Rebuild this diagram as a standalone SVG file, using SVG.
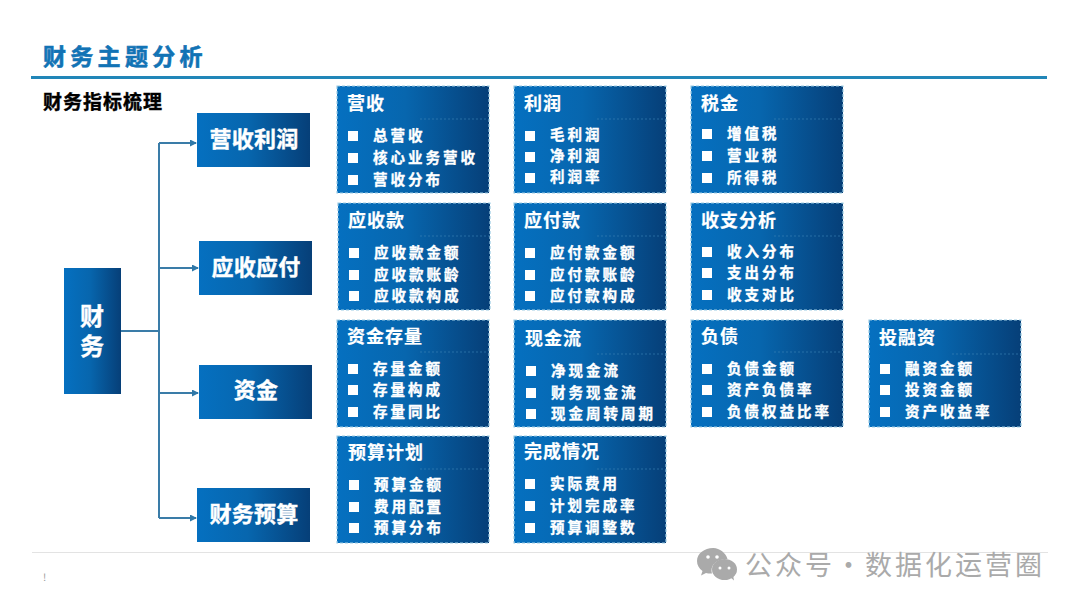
<svg xmlns="http://www.w3.org/2000/svg" width="1080" height="608" viewBox="0 0 1080 608">
<style>
text{font-family:"Noto Sans CJK SC","Noto Sans",sans-serif;font-weight:700}
.n{fill:url(#g)}
.c{fill:url(#g);stroke:#9ccbe3;stroke-width:1.2;stroke-dasharray:3 2}
.d{stroke:#3f86b8;stroke-width:1;stroke-dasharray:2 2;opacity:.6}
.nt{fill:#fff;stroke:#fff;stroke-width:.4;font-size:22px;letter-spacing:.3px;text-anchor:middle}
.h{fill:#fff;stroke:#fff;stroke-width:.2;font-size:18px;letter-spacing:1px}
.i{fill:#fff;stroke:#fff;stroke-width:.35;font-size:14.5px;letter-spacing:3px}
.b{fill:#fff}
.w{stroke:#3a7ca8;stroke-width:2;fill:none}
</style>
<defs>
<linearGradient id="g" x1="0" y1="0" x2="1" y2="0"><stop offset="0" stop-color="#0570c0"/><stop offset=".45" stop-color="#0766ae"/><stop offset="1" stop-color="#063f78"/></linearGradient>
<marker id="a" markerWidth="8" markerHeight="8" refX="6" refY="3.5" orient="auto" markerUnits="userSpaceOnUse"><path d="M0 0L7 3.5L0 7z" fill="#2f78a8"/></marker>
</defs>
<rect width="1080" height="608" fill="#fff"/>
<text x="43" y="65" font-size="23" letter-spacing="4.3" fill="#1273b5" stroke="#1273b5" stroke-width=".6">财务主题分析</text>
<rect x="31" y="76" width="1016" height="3" fill="#2186b8"/>
<text x="43" y="109" font-size="19" letter-spacing="1" fill="#000" stroke="#000" stroke-width=".4">财务指标梳理</text>
<g id="connectors">
<path class="w" d="M121 331H159"/>
<path class="w" d="M159 518V143"/>
<path class="w" d="M159 143H196" marker-end="url(#a)"/>
<path class="w" d="M159 268H198" marker-end="url(#a)"/>
<path class="w" d="M159 393H198" marker-end="url(#a)"/>
<path class="w" d="M159 518H196" marker-end="url(#a)"/>
</g>
<g id="n-root"><rect class="n" x="64" y="268" width="57" height="126"/><text x="92" y="304" fill="#fff" stroke="#fff" stroke-width=".4" font-size="24" letter-spacing="6" style="writing-mode:vertical-rl">财务</text></g>
<g id="n-1"><rect class="n" x="197" y="113" width="113" height="54"/><text class="nt" x="254" y="147">营收利润</text></g>
<g id="n-2"><rect class="n" x="199" y="241" width="113" height="54"/><text class="nt" x="256" y="275">应收应付</text></g>
<g id="n-3"><rect class="n" x="199" y="365" width="113" height="54"/><text class="nt" x="256" y="398">资金</text></g>
<g id="n-4"><rect class="n" x="197" y="488" width="113" height="54"/><text class="nt" x="254" y="522">财务预算</text></g>

<g id="c-11"><rect class="c" x="337" y="86" width="152" height="107"/><path class="d" d="M420 119H489"/><text class="h" x="347" y="110">营收</text>
<rect class="b" x="348" y="131" width="10" height="10"/><rect class="b" x="348" y="153" width="10" height="10"/><rect class="b" x="348" y="175" width="10" height="10"/>
<text class="i" x="373" y="141">总营收</text><text class="i" x="373" y="163">核心业务营收</text><text class="i" x="373" y="185">营收分布</text></g>
<g id="c-12"><rect class="c" x="514" y="86" width="152" height="107"/><path class="d" d="M597 119H666"/><text class="h" x="524" y="110">利润</text>
<rect class="b" x="525" y="131" width="10" height="10"/><rect class="b" x="525" y="152" width="10" height="10"/><rect class="b" x="525" y="173" width="10" height="10"/>
<text class="i" x="550" y="140">毛利润</text><text class="i" x="550" y="161">净利润</text><text class="i" x="550" y="182">利润率</text></g>
<g id="c-13"><rect class="c" x="691" y="86" width="152" height="107"/><path class="d" d="M774 119H843"/><text class="h" x="701" y="110">税金</text>
<rect class="b" x="702" y="129" width="10" height="10"/><rect class="b" x="702" y="151" width="10" height="10"/><rect class="b" x="702" y="173" width="10" height="10"/>
<text class="i" x="727" y="139">增值税</text><text class="i" x="727" y="161">营业税</text><text class="i" x="727" y="183">所得税</text></g>

<g id="c-21"><rect class="c" x="338" y="203" width="152" height="107"/><path class="d" d="M420 236H490"/><text class="h" x="348" y="227">应收款</text>
<rect class="b" x="349" y="248" width="10" height="10"/><rect class="b" x="349" y="270" width="10" height="10"/><rect class="b" x="349" y="291" width="10" height="10"/>
<text class="i" x="374" y="258">应收款金额</text><text class="i" x="374" y="280">应收款账龄</text><text class="i" x="374" y="301">应收款构成</text></g>
<g id="c-22"><rect class="c" x="514" y="203" width="152" height="107"/><path class="d" d="M597 236H666"/><text class="h" x="524" y="227">应付款</text>
<rect class="b" x="525" y="248" width="10" height="10"/><rect class="b" x="525" y="270" width="10" height="10"/><rect class="b" x="525" y="291" width="10" height="10"/>
<text class="i" x="550" y="258">应付款金额</text><text class="i" x="550" y="280">应付款账龄</text><text class="i" x="550" y="301">应付款构成</text></g>
<g id="c-23"><rect class="c" x="691" y="203" width="152" height="107"/><path class="d" d="M774 236H843"/><text class="h" x="701" y="227">收支分析</text>
<rect class="b" x="702" y="247" width="10" height="10"/><rect class="b" x="702" y="268" width="10" height="10"/><rect class="b" x="702" y="290" width="10" height="10"/>
<text class="i" x="727" y="257">收入分布</text><text class="i" x="727" y="278">支出分布</text><text class="i" x="727" y="300">收支对比</text></g>

<g id="c-31"><rect class="c" x="337" y="320" width="152" height="107"/><path class="d" d="M420 352H489"/><text class="h" x="347" y="343">资金存量</text>
<rect class="b" x="348" y="364" width="10" height="10"/><rect class="b" x="348" y="385" width="10" height="10"/><rect class="b" x="348" y="407" width="10" height="10"/>
<text class="i" x="373" y="374">存量金额</text><text class="i" x="373" y="395">存量构成</text><text class="i" x="373" y="417">存量同比</text></g>
<g id="c-32"><rect class="c" x="514" y="320" width="152" height="107"/><path class="d" d="M597 354H666"/><text class="h" x="525" y="345">现金流</text>
<rect class="b" x="526" y="366" width="10" height="10"/><rect class="b" x="526" y="388" width="10" height="10"/><rect class="b" x="526" y="409" width="10" height="10"/>
<text class="i" x="551" y="376">净现金流</text><text class="i" x="551" y="398">财务现金流</text><text class="i" x="551" y="419">现金周转周期</text></g>
<g id="c-33"><rect class="c" x="691" y="320" width="152" height="107"/><path class="d" d="M774 352H843"/><text class="h" x="701" y="343">负债</text>
<rect class="b" x="702" y="364" width="10" height="10"/><rect class="b" x="702" y="385" width="10" height="10"/><rect class="b" x="702" y="407" width="10" height="10"/>
<text class="i" x="727" y="374">负债金额</text><text class="i" x="727" y="395">资产负债率</text><text class="i" x="727" y="417">负债权益比率</text></g>
<g id="c-34"><rect class="c" x="869" y="320" width="152" height="107"/><path class="d" d="M952 354H1021"/><text class="h" x="879" y="344">投融资</text>
<rect class="b" x="880" y="364" width="10" height="10"/><rect class="b" x="880" y="385" width="10" height="10"/><rect class="b" x="880" y="407" width="10" height="10"/>
<text class="i" x="905" y="374">融资金额</text><text class="i" x="905" y="395">投资金额</text><text class="i" x="905" y="417">资产收益率</text></g>

<g id="c-41"><rect class="c" x="337" y="436" width="152" height="107"/><path class="d" d="M420 469H489"/><text class="h" x="348" y="459">预算计划</text>
<rect class="b" x="349" y="480" width="10" height="10"/><rect class="b" x="349" y="502" width="10" height="10"/><rect class="b" x="349" y="523" width="10" height="10"/>
<text class="i" x="374" y="490">预算金额</text><text class="i" x="374" y="512">费用配置</text><text class="i" x="374" y="533">预算分布</text></g>
<g id="c-42"><rect class="c" x="514" y="436" width="152" height="107"/><path class="d" d="M597 469H666"/><text class="h" x="524" y="458">完成情况</text>
<rect class="b" x="525" y="479" width="10" height="10"/><rect class="b" x="525" y="501" width="10" height="10"/><rect class="b" x="525" y="523" width="10" height="10"/>
<text class="i" x="550" y="489">实际费用</text><text class="i" x="550" y="511">计划完成率</text><text class="i" x="550" y="533">预算调整数</text></g>

<rect x="32" y="552" width="1016" height="1" fill="#e3e3e3"/>
<text x="43" y="581" font-size="10" fill="#999" style="font-weight:400">!</text>
<g id="watermark" fill="#aaa">
<path d="M713 548c-8.500 0-16 5.500-16 13 0 4 2 7.500 5.500 10l-1.500 4.500 5-2.500c1.500 .4 3 .6 4.500 .6 .5 0 1 0 1.500-.1-.3-1-.5-2-.5-3 0-6.500 6-11.500 15-11.500h1c-1.500-6-8-11-14-11z"/>
<ellipse cx="724.500" cy="569.500" rx="12.500" ry="10.500"/><path d="M730 577l4 3.500-1-5.500z"/>
<circle cx="708" cy="557" r="1.800" fill="#fff"/><circle cx="717" cy="557" r="1.800" fill="#fff"/>
<circle cx="720" cy="568" r="1.500" fill="#fff"/><circle cx="729" cy="568" r="1.500" fill="#fff"/>
<text x="745" y="575" font-size="27" letter-spacing="3" word-spacing="-9" style="font-weight:400">公众号 · 数据化运营圈</text>
</g>
</svg>
